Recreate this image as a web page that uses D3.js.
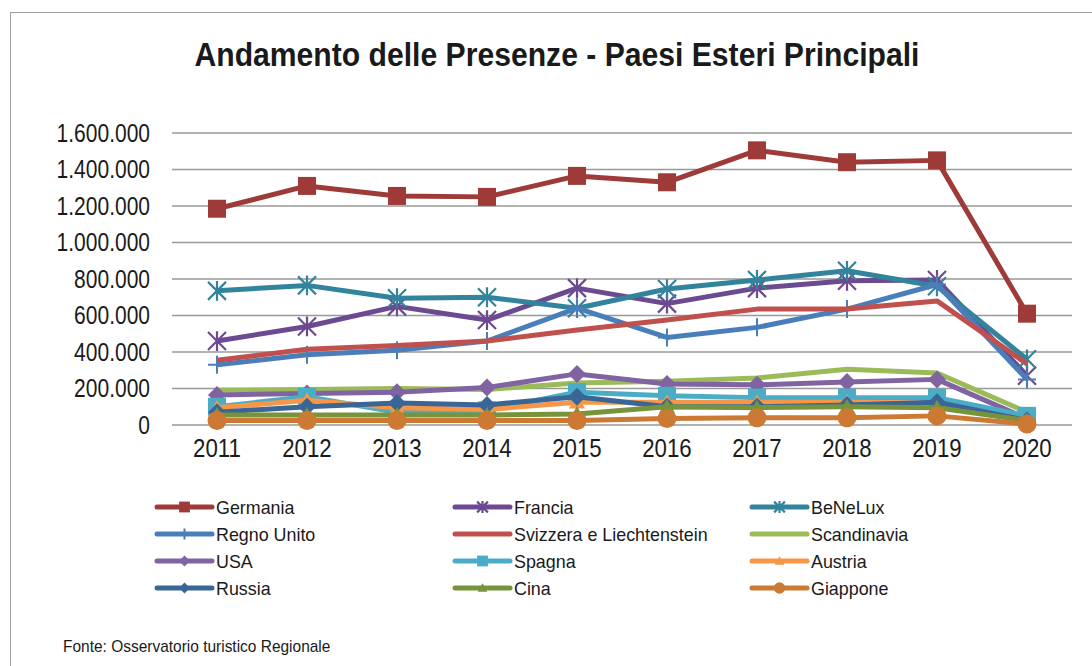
<!DOCTYPE html>
<html>
<head>
<meta charset="utf-8">
<script src="https://cdn.jsdelivr.net/npm/d3@7"></script>
<style>
  body { margin: 0; background: #fff; }
  text { font-family: "Liberation Sans Narrow", "Arial Narrow", "Liberation Sans", Arial, sans-serif; fill: #1a1a1a; }
</style>
</head>
<body>
<div class="chart"></div>
<script>
var W = 1092, H = 666;

var years = ["2011", "2012", "2013", "2014", "2015", "2016", "2017", "2018", "2019", "2020"];
var yTicks = [0, 200000, 400000, 600000, 800000, 1000000, 1200000, 1400000, 1600000];

var germania    = [1185000, 1310000, 1255000, 1250000, 1365000, 1330000, 1505000, 1440000, 1450000, 610000];
var francia     = [460000, 540000, 650000, 575000, 750000, 665000, 750000, 790000, 795000, 270000];
var benelux     = [735000, 765000, 695000, 700000, 640000, 745000, 795000, 845000, 760000, 360000];
var regnoUnito  = [330000, 385000, 410000, 460000, 640000, 480000, 535000, 635000, 770000, 250000];
var svizzera    = [355000, 415000, 435000, 460000, 520000, 575000, 635000, 635000, 680000, 335000];
var scandinavia = [190000, 195000, 200000, 195000, 230000, 240000, 258000, 305000, 285000, 70000];
var usa         = [165000, 172000, 180000, 205000, 280000, 225000, 220000, 235000, 250000, 35000];
var spagna      = [100000, 155000, 70000, 80000, 180000, 160000, 150000, 150000, 150000, 50000];
var austria     = [95000, 135000, 95000, 85000, 125000, 125000, 125000, 125000, 120000, 25000];
var russia      = [70000, 100000, 120000, 110000, 155000, 100000, 100000, 110000, 125000, 25000];
var cina        = [55000, 55000, 55000, 55000, 60000, 100000, 95000, 100000, 95000, 25000];
var giappone    = [25000, 25000, 25000, 25000, 25000, 35000, 40000, 40000, 50000, 5000];

var series = [
  {name: "Germania", values: germania, color: "#9e3b38", marker: "square"},
  {name: "Francia", values: francia, color: "#6c4a91", marker: "star"},
  {name: "BeNeLux", values: benelux, color: "#31849b", marker: "star"},
  {name: "Regno Unito", values: regnoUnito, color: "#4a7ebb", marker: "plus"},
  {name: "Svizzera e Liechtenstein", values: svizzera, color: "#c0504d", marker: "none"},
  {name: "Scandinavia", values: scandinavia, color: "#9bbb59", marker: "none"},
  {name: "USA", values: usa, color: "#8064a2", marker: "diamond"},
  {name: "Spagna", values: spagna, color: "#4bacc6", marker: "square"},
  {name: "Austria", values: austria, color: "#f79646", marker: "triangle"},
  {name: "Russia", values: russia, color: "#3a6597", marker: "diamond"},
  {name: "Cina", values: cina, color: "#77933c", marker: "triangle"},
  {name: "Giappone", values: giappone, color: "#cc7a33", marker: "circle"}
];

var svg = d3.select(".chart").append("svg")
    .attr("width", W)
    .attr("height", H);

// squeeze text horizontally (no narrow font installed)
function squeeze(sel, k) {
  sel.each(function() {
    var len = this.getComputedTextLength();
    d3.select(this).attr("textLength", len * k).attr("lengthAdjust", "spacingAndGlyphs");
  });
}

svg.append("rect")
    .attr("x", 10.5).attr("y", 12.5)
    .attr("width", W + 20).attr("height", H + 20)
    .attr("fill", "none").attr("stroke", "#a0a0a0");

svg.append("text")
    .attr("x", 557).attr("y", 66)
    .attr("text-anchor", "middle")
    .style("font-size", "33px").style("font-weight", "bold")
    .attr("textLength", 725).attr("lengthAdjust", "spacingAndGlyphs")
    .text("Andamento delle Presenze - Paesi Esteri Principali");

var x = d3.scaleBand().domain(years).range([172, 1072]);
var y = d3.scaleLinear().domain([0, 1600000]).range([425, 133]);

// gridlines
svg.append("g").selectAll("line")
    .data(yTicks).enter().append("line")
    .attr("x1", 172).attr("x2", 1072)
    .attr("y1", function(d){ return y(d); })
    .attr("y2", function(d){ return y(d); })
    .attr("stroke", "#999").attr("stroke-width", 1.5);

var fmt = d3.formatLocale({decimal: ",", thousands: ".", grouping: [3], currency: ["€", ""]}).format(",d");

var yAxis = d3.axisLeft(y).tickValues(yTicks).tickFormat(fmt).tickSize(0).tickPadding(22);
var gy = svg.append("g").attr("transform", "translate(172,0)").call(yAxis);
gy.select(".domain").remove();
gy.selectAll("text").style("font-size", "25px").attr("fill", "#1a1a1a");
squeeze(gy.selectAll("text"), 0.84);

var xAxis = d3.axisBottom(x).tickSize(0).tickPadding(14);
var gx = svg.append("g").attr("transform", "translate(0,425)").call(xAxis);
gx.select(".domain").remove();
gx.selectAll("text").style("font-size", "25px").attr("fill", "#1a1a1a");
squeeze(gx.selectAll("text"), 0.89);

function cx(i){ return x(years[i]) + x.bandwidth() / 2; }

var line = d3.line()
    .x(function(d, i){ return cx(i); })
    .y(function(d){ return y(d); });

function drawMarker(g, type, px, py, color, s) {
  s = s || 1;
  if (type === "square") {
    g.append("rect").attr("x", px - 9 * s).attr("y", py - 9 * s)
      .attr("width", 18 * s).attr("height", 18 * s).attr("fill", color);
  } else if (type === "circle") {
    g.append("circle").attr("cx", px).attr("cy", py).attr("r", 9.5 * s).attr("fill", color);
  } else if (type === "diamond") {
    var r = 9 * s;
    g.append("path").attr("d", "M" + px + "," + (py - r) + "L" + (px + r) + "," + py + "L" + px + "," + (py + r) + "L" + (px - r) + "," + py + "Z")
      .attr("fill", color);
  } else if (type === "triangle") {
    var t = 8 * s;
    g.append("path").attr("d", "M" + px + "," + (py - t) + "L" + (px + t) + "," + (py + t * 0.8) + "L" + (px - t) + "," + (py + t * 0.8) + "Z")
      .attr("fill", color);
  } else if (type === "star") {
    var k = 9 * s;
    g.append("path")
      .attr("d", "M" + (px - k) + "," + (py - k) + "L" + (px + k) + "," + (py + k) +
                 "M" + (px - k) + "," + (py + k) + "L" + (px + k) + "," + (py - k) +
                 "M" + px + "," + (py - k * 1.1) + "L" + px + "," + (py + k * 1.1))
      .attr("stroke", color).attr("stroke-width", 2.2).attr("fill", "none");
  } else if (type === "plus") {
    var p = 9 * s;
    g.append("path")
      .attr("d", "M" + px + "," + (py - p) + "L" + px + "," + (py + p) + "M" + (px - p) + "," + py + "L" + (px + p) + "," + py)
      .attr("stroke", color).attr("stroke-width", 2).attr("fill", "none");
  }
}

var plot = svg.append("g");
series.forEach(function(s) {
  var g = plot.append("g");
  g.append("path")
    .datum(s.values)
    .attr("d", line)
    .attr("fill", "none")
    .attr("stroke", s.color)
    .attr("stroke-width", 5)
    .attr("stroke-linejoin", "round");
  s.values.forEach(function(v, i) {
    drawMarker(g, s.marker, cx(i), y(v), s.color);
  });
});

// legend
var legX = [157, 455, 752];
var legY = [507, 534, 561, 588];
var leg = svg.append("g");
series.forEach(function(s, i) {
  var lx = legX[i % 3], ly = legY[Math.floor(i / 3)];
  var g = leg.append("g");
  g.append("line")
    .attr("x1", lx).attr("x2", lx + 55)
    .attr("y1", ly).attr("y2", ly)
    .attr("stroke", s.color).attr("stroke-width", 5).attr("stroke-linecap", "round");
  drawMarker(g, s.marker, lx + 27.5, ly, s.color, 0.6);
  g.append("text")
    .attr("x", lx + 59).attr("y", ly + 7)
    .style("font-size", "19px")
    .text(s.name);
});
squeeze(leg.selectAll("text"), 0.94);

var foot = svg.append("text")
    .attr("x", 63).attr("y", 652)
    .style("font-size", "17px")
    .text("Fonte: Osservatorio turistico Regionale");
squeeze(foot, 0.91);
</script>
</body>
</html>
